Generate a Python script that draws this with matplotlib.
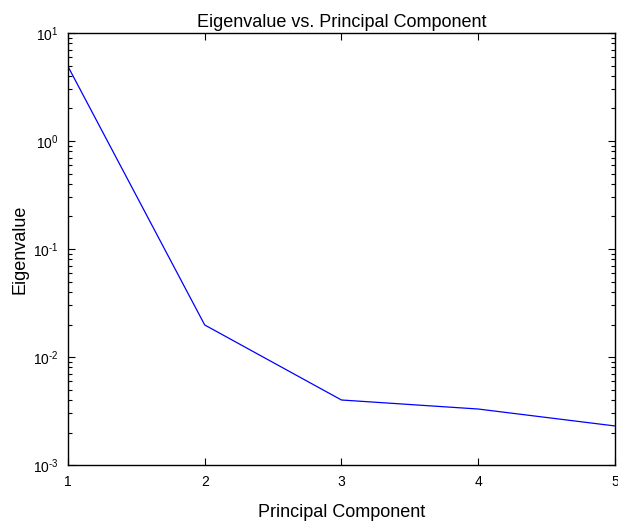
import matplotlib
matplotlib.use("Agg")
import matplotlib.pyplot as plt
from matplotlib.ticker import LogLocator, FuncFormatter, FixedLocator, NullFormatter
import numpy as np

plt.rcParams['font.family'] = ['Liberation Sans', 'DejaVu Sans']
plt.rcParams['mathtext.fontset'] = 'custom'
plt.rcParams['mathtext.rm'] = 'Liberation Sans'
plt.rcParams['mathtext.it'] = 'Liberation Sans'

components = [1, 2, 3, 4, 5]
eigenvalues = [4.9, 0.0198, 0.0040, 0.0033, 0.0023]
x_ticks = [1, 2, 3, 4, 5]

def log_fmt(v, pos):
    e = int(round(np.log10(v)))
    s = str(e).replace('-', '\u2010')
    return r'$\mathregular{10^{%s}}$' % s

fig = plt.figure(figsize=(6.18, 5.27), dpi=100)
ax = fig.add_axes([0.110, 0.1176, 0.885, 0.8198])
ax.plot(components, eigenvalues, color='#0000ff', lw=0.9)
ax.set_yscale('log')
ax.set_xlim(1, 5)
ax.set_ylim(1e-3, 1e1)
ax.xaxis.set_major_locator(FixedLocator(x_ticks))
ax.yaxis.set_major_locator(LogLocator(base=10, numticks=10))
ax.yaxis.set_minor_locator(LogLocator(base=10, subs=range(2, 10), numticks=20))
ax.yaxis.set_minor_formatter(NullFormatter())
ax.yaxis.set_major_formatter(FuncFormatter(log_fmt))
ax.tick_params(which='both', direction='in', top=True, right=True, labelsize=10, width=0.8, pad=7)
ax.tick_params(which='major', length=5)
ax.tick_params(which='minor', length=3)
for s in ax.spines.values():
    s.set_linewidth(1.0)
ax.set_title('Eigenvalue vs. Principal Component', fontsize=13, pad=4)
ax.set_xlabel('Principal Component', fontsize=13, labelpad=11)
ax.set_ylabel('Eigenvalue', fontsize=13, labelpad=3)
fig.savefig('out.png', dpi=100)
